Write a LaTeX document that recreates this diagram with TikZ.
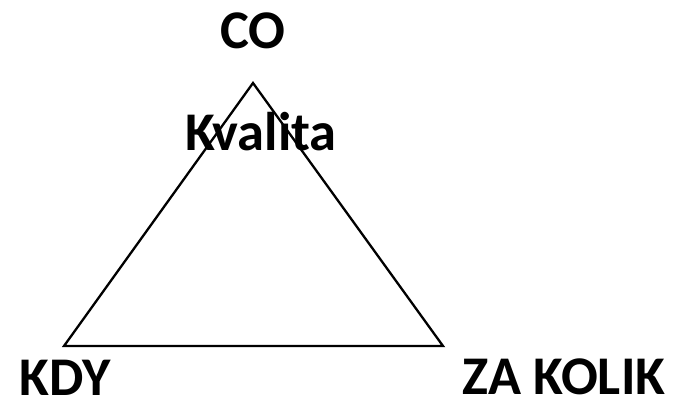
\documentclass[tikz,border=0pt]{standalone}
\usepackage{fontspec}
\setmainfont{Carlito}
\begin{document}
\begin{tikzpicture}[x=1pt,y=-1pt,
  lbl/.style={font=\fontsize{54.5}{64}\selectfont\bfseries, anchor=base, inner sep=0pt},
  edge/.style={draw=black, line width=2.3pt, line join=miter}]
\useasboundingbox (0,0) rectangle (677,408);
\coordinate (top) at (253,83);
\coordinate (bl) at (64,346);
\coordinate (br) at (443,346);
\draw[edge] (top) -- (bl) -- (br) -- cycle;
\node[lbl] (co) at (253,48) {CO};
\node[lbl] (kv) at (261,150) {Kvalita};
\node[lbl] (kdy) at (65,395) {KDY};
\node[lbl] (zk) at (564,394) {ZA KOLIK};
\end{tikzpicture}
\end{document}
